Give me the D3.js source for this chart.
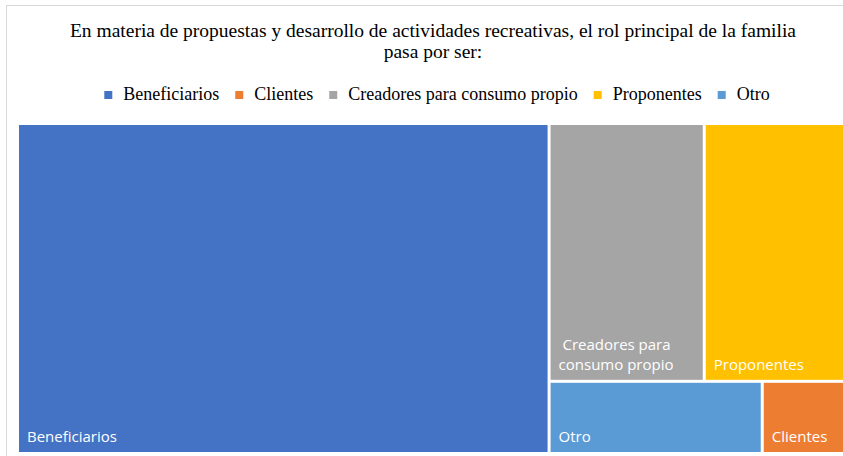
<!DOCTYPE html>
<html>
<head>
<meta charset="utf-8">
<script src="https://cdn.jsdelivr.net/npm/d3@7"></script>
<style>
  body { margin: 0; background: #fff; }
  svg { display: block; }
</style>
</head>
<body>
<svg width="843" height="456"></svg>
<script>
// data
var categories = ["Beneficiarios", "Clientes", "Creadores para consumo propio", "Proponentes", "Otro"];
var values = [57, 2, 13, 12, 5];
var colors = ["#4472C4", "#ED7D31", "#A5A5A5", "#FFC000", "#5B9BD5"];
var tileLabels = [["Beneficiarios"], ["Clientes"], [" Creadores para", "consumo propio"], ["Proponentes"], ["Otro"]];
var titleLines = ["En materia de propuestas y desarrollo de actividades recreativas, el rol principal de la familia", "pasa por ser:"];

var svg = d3.select("svg");
var frame = {x: 6.5, y: 5.5, w: 870, h: 470};
var cx = 433;
var area = {x0: 19, y0: 125, x1: 846, y1: 452};

// chart frame (right and bottom sides fall outside the picture)
svg.append("rect")
    .attr("x", frame.x).attr("y", frame.y)
    .attr("width", frame.w).attr("height", frame.h)
    .attr("fill", "#fff")
    .attr("stroke", "#d9d9d9");

// title
svg.append("g").selectAll("text")
    .data(titleLines)
    .enter().append("text")
    .attr("x", cx)
    .attr("y", function(d, i) { return 37 + i * 21; })
    .attr("text-anchor", "middle")
    .style("font", "19.5px 'Liberation Serif', 'Times New Roman', serif")
    .attr("fill", "#000")
    .text(function(d) { return d; });

// legend
var legend = svg.append("g");
var items = legend.selectAll("g")
    .data(categories)
    .enter().append("g");
items.append("rect")
    .attr("width", 8).attr("height", 8)
    .attr("y", -9)
    .attr("fill", function(d, i) { return colors[i]; });
items.append("text")
    .attr("x", 19)
    .style("font", "18px 'Liberation Serif', 'Times New Roman', serif")
    .attr("fill", "#000")
    .text(function(d) { return d; });
var pos = 0;
items.each(function() {
    var w = d3.select(this).select("text").node().getComputedTextLength();
    d3.select(this).attr("transform", "translate(" + pos + ",0)");
    pos += 19 + w + 16;
});
var legendW = pos - 16;
legend.attr("transform", "translate(" + (cx + 4 - legendW / 2) + ",100)");

// treemap
var root = d3.hierarchy({children: categories.map(function(c, i) {
        return {name: c, value: values[i], color: colors[i], label: tileLabels[i]};
    })})
    .sum(function(d) { return d.value || 0; })
    .sort(function(a, b) { return b.value - a.value; });

d3.treemap()
    .tile(d3.treemapSquarify)
    .size([area.x1 - area.x0, area.y1 - area.y0])
    .paddingInner(3)(root);

var cell = svg.append("g")
    .attr("transform", "translate(" + area.x0 + "," + area.y0 + ")")
    .selectAll("g")
    .data(root.leaves())
    .enter().append("g")
    .attr("transform", function(d) { return "translate(" + d.x0 + "," + d.y0 + ")"; });

cell.append("rect")
    .attr("width", function(d) { return d.x1 - d.x0; })
    .attr("height", function(d) { return d.y1 - d.y0; })
    .attr("fill", function(d) { return d.data.color; });

cell.append("text")
    .attr("fill", "#fff")
    .style("font", "15px 'Open Sans', sans-serif")
    .style("white-space", "pre")
    .selectAll("tspan")
    .data(function(d) {
        var h = d.y1 - d.y0, n = d.data.label.length;
        return d.data.label.map(function(t, i) { return {t: t, y: h - 10 - (n - 1 - i) * 20}; });
    })
    .enter().append("tspan")
    .attr("x", 8)
    .attr("y", function(d) { return d.y; })
    .text(function(d) { return d.t; });
</script>
</body>
</html>
